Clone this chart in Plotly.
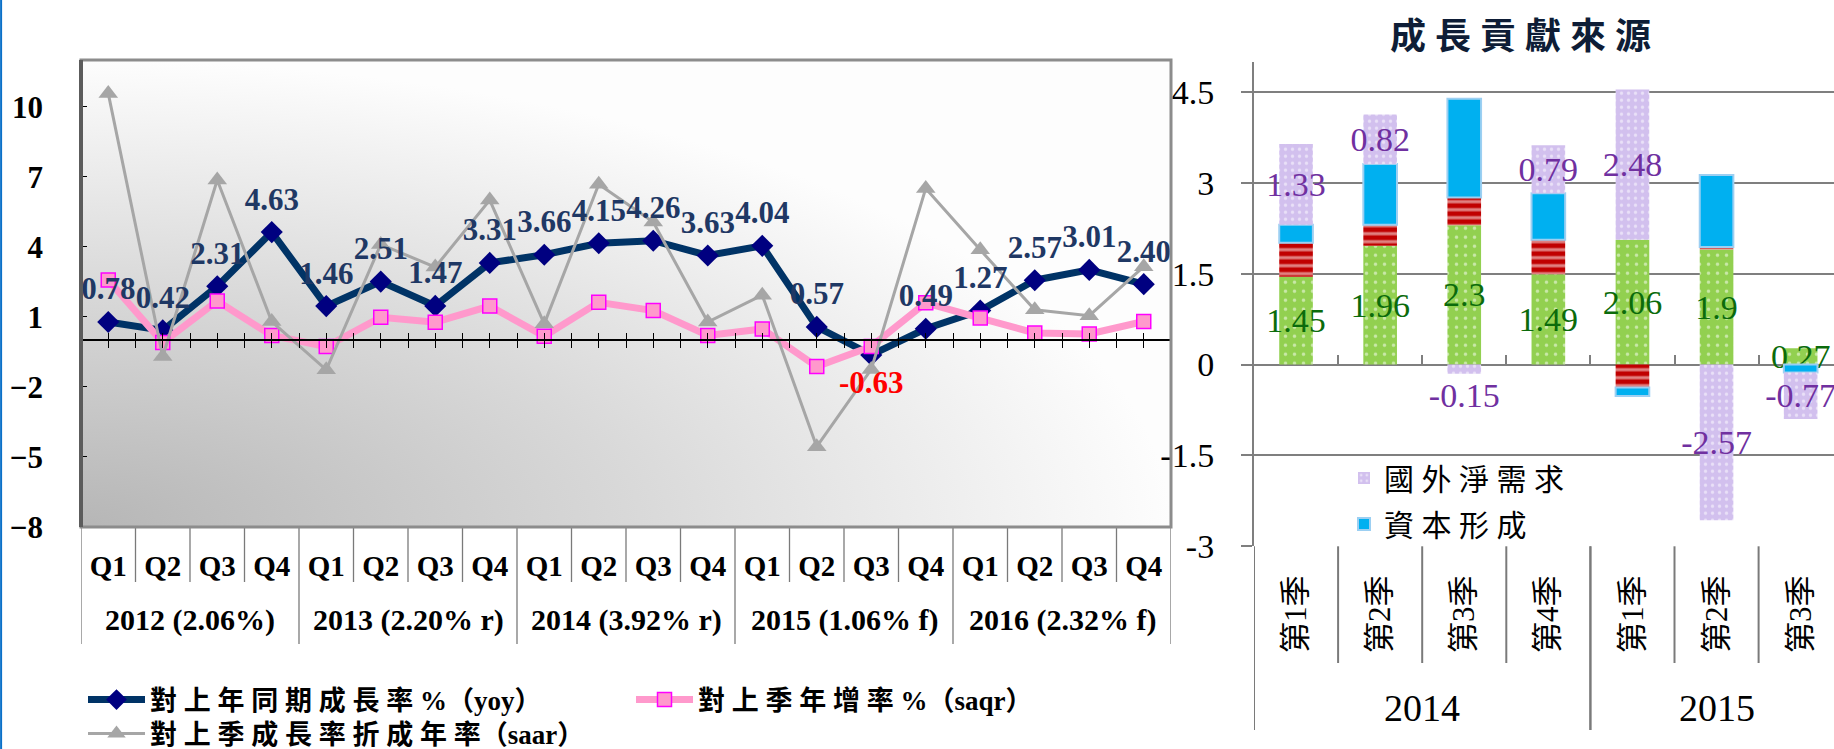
import base64
import plotly.graph_objects as go

W, H = 1834, 749

# ---- growth-rate lines (left panel) ----
year_labels = ["2012 (2.06%)", "2013 (2.20% r)", "2014 (3.92% r)", "2015 (1.06% f)", "2016 (2.32% f)"]
quarter_labels = ["Q1", "Q2", "Q3", "Q4"]
yoy = [0.78, 0.42, 2.31, 4.63, 1.46, 2.51, 1.47, 3.31, 3.66, 4.15,
       4.26, 3.63, 4.04, 0.57, -0.63, 0.49, 1.27, 2.57, 3.01, 2.40]
saqr = [2.58, -0.10, 1.68, 0.20, -0.27, 0.98, 0.77, 1.46, 0.17, 1.62,
        1.27, 0.20, 0.48, -1.13, -0.27, 1.60, 0.95, 0.31, 0.27, 0.80]
saar = [10.57, -0.70, 6.86, 0.80, -1.27, 4.10, 3.13, 6.00, 0.70, 6.68,
        5.06, 0.78, 1.93, -4.56, -1.25, 6.50, 3.87, 1.30, 1.05, 3.15]
left_ticks = [-8, -5, -2, 1, 4, 7, 10]
left_range = [-8, 12]

# ---- contribution bars (right panel) ----
bar_years = ["2014", "2015"]
bar_quarters_per_year = [["第1季", "第2季", "第3季", "第4季"], ["第1季", "第2季", "第3季"]]
consumption = [1.45, 1.96, 2.30, 1.49, 2.06, 1.90, 0.27]
government = [0.56, 0.35, 0.46, 0.57, -0.38, 0.04, 0.00]
capital = [0.30, 1.00, 1.63, 0.77, -0.14, 1.19, -0.13]
net_exports = [1.33, 0.82, -0.15, 0.79, 2.48, -2.57, -0.77]
right_ticks = [-3, -1.5, 0, 1.5, 3, 4.5]
right_range = [-3, 5]


def py(px):
    """pixel row -> paper y"""
    return (H - px) / H


def pxx(px):
    return px / W


def spaced(text, gap):
    """put a narrow space between CJK characters"""
    out = ""
    for i, ch in enumerate(text):
        out += ch
        if i + 1 < len(text) and ord(ch) > 0x2E80 and ord(text[i + 1]) > 0x2E80 and text[i + 1] not in "（）":
            out += gap
    return out


SERIF = "Liberation Serif, Noto Sans CJK TC"
CJK = "Noto Sans CJK TC, Liberation Serif"

# category ids
cats = [f"{y[:4]}{q}" for y in year_labels for q in quarter_labels]
qtext = [q for _ in year_labels for q in quarter_labels]
bcats, btext = [], []
for y, qs in zip(bar_years, bar_quarters_per_year):
    for q in qs:
        bcats.append(f"{y}-{q}")
        btext.append(q)

xdom = [pxx(81), pxx(1171)]
ydom = [py(527), py(60)]
x2dom = [pxx(1254), 1.0]
y2dom = [py(546.3), py(61.7)]
cat_w_px = 84.1
x2_range = [-0.5, -0.5 + (W - 1254) / cat_w_px]

zero_left = ydom[0] + (0 - left_range[0]) / (left_range[1] - left_range[0]) * (ydom[1] - ydom[0])
zero_right = y2dom[0] + (0 - right_range[0]) / (right_range[1] - right_range[0]) * (y2dom[1] - y2dom[0])

fig = go.Figure()

fig.add_trace(go.Scatter(
    x=cats, y=yoy, name=spaced("對上年同期成長率", " ") + " %（yoy）", mode="lines+markers",
    line=dict(color="#003366", width=7),
    marker=dict(symbol="diamond", size=17, color="#000080"),
    xaxis="x", yaxis="y", legend="legend", cliponaxis=False))
fig.add_trace(go.Scatter(
    x=cats, y=saqr, name=spaced("對上季年增率", " ") + " %（saqr）", mode="lines+markers",
    line=dict(color="#ff99cc", width=7),
    marker=dict(symbol="square", size=14, color="#ff99cc", line=dict(color="#ff00ff", width=1.5)),
    xaxis="x", yaxis="y", legend="legend", cliponaxis=False))
fig.add_trace(go.Scatter(
    x=cats, y=saar, name=spaced("對上季成長率折成年率", " ") + "（saar）", mode="lines+markers",
    line=dict(color="#a6a6a6", width=3),
    marker=dict(symbol="triangle-up", size=17, color="#a6a6a6"),
    xaxis="x", yaxis="y", legend="legend2", cliponaxis=False))
# value labels of the yoy series, drawn on top of all lines
fig.add_trace(go.Scatter(
    x=cats, y=yoy, mode="markers+text", showlegend=False, hoverinfo="skip",
    marker=dict(size=22, opacity=0),
    text=[f"{v:.2f}" for v in yoy],
    textposition=["bottom center" if v < 0 else "top center" for v in yoy],
    textfont=dict(family=SERIF, size=31, weight="bold",
                  color=["#ff0000" if v < 0 else "#1f3864" for v in yoy]),
    xaxis="x", yaxis="y", cliponaxis=False))
# carriers for the zero-line tick axes
fig.add_trace(go.Scatter(x=[], y=[], xaxis="x3", yaxis="y", showlegend=False, hoverinfo="skip"))
fig.add_trace(go.Scatter(x=[], y=[], xaxis="x4", yaxis="y", showlegend=False, hoverinfo="skip"))

bar_common = dict(xaxis="x2", yaxis="y2", textangle=0, constraintext="none",
                  insidetextanchor="middle", cliponaxis=False, legend="legend3")
fig.add_trace(go.Bar(
    x=bcats, y=consumption, name="民間消費", showlegend=False,
    marker=dict(color="#92d050", line=dict(width=0),
                pattern=dict(shape=".", fgcolor="#ffffff", bgcolor="#92d050", size=9, solidity=0.12)),
    text=[f"{v:g}" for v in consumption], textposition="inside",
    textfont=dict(family=SERIF, size=34, color="#0b6b0b"), **bar_common))
fig.add_trace(go.Bar(
    x=bcats, y=government, name="政府消費", showlegend=False,
    marker=dict(color="#c00000", line=dict(width=0),
                pattern=dict(shape="-", fgcolor="#ffffff", bgcolor="#c00000", size=8, solidity=0.4)),
    **bar_common))
fig.add_trace(go.Bar(
    x=bcats, y=capital, name=spaced("資本形成", "\u2005"), legendgroup="cap", legendrank=2,
    marker=dict(color="#00b0f0", line=dict(color="#9ccff2", width=2)),
    **bar_common))
fig.add_trace(go.Bar(
    x=bcats, y=net_exports, name=spaced("國外淨需求", "\u2005"), legendgroup="net", legendrank=1,
    marker=dict(color="#d6c6f0", line=dict(width=0),
                pattern=dict(shape=".", fgcolor="#ffffff", bgcolor="#d2c0ee", size=7, solidity=0.18)),
    text=[f"{v:g}" for v in net_exports],
    textposition=["outside" if -0.3 < v < 0 else "inside" for v in net_exports],
    textfont=dict(family=SERIF, size=34, color="#7030a0"), **bar_common))
fig.add_trace(go.Scatter(x=[], y=[], xaxis="x5", yaxis="y2", showlegend=False, hoverinfo="skip"))

# plot-area shading
svg = ('<svg xmlns="http://www.w3.org/2000/svg" width="1000" height="1000" viewBox="0 0 1000 1000" '
       'preserveAspectRatio="none"><defs><radialGradient id="g" cx="0" cy="1" r="1" '
       'gradientUnits="objectBoundingBox"><stop offset="0" stop-color="#b6b6b6"/>'
       '<stop offset="0.5" stop-color="#d8d8d8"/><stop offset="1" stop-color="#fdfdfd"/>'
       '</radialGradient></defs><rect width="1000" height="1000" fill="url(#g)"/></svg>')
bg_src = "data:image/svg+xml;base64," + base64.b64encode(svg.encode()).decode()

shapes = []
grey = "#7a7a7a"
# left panel: quarter and year dividers under the plot
for i in range(len(cats) + 1):
    b = i - 0.5
    is_year = i % len(quarter_labels) == 0
    shapes.append(dict(type="line", xref="x", yref="paper", x0=b, x1=b,
                       y0=ydom[0], y1=py(644) if is_year else py(582),
                       line=dict(color=grey, width=1.3)))
# left panel frame
shapes.append(dict(type="rect", xref="paper", yref="paper", x0=xdom[0], x1=xdom[1],
                   y0=ydom[0], y1=ydom[1], line=dict(color="#8c8c8c", width=3)))
shapes.append(dict(type="line", xref="paper", yref="paper", x0=xdom[0], x1=xdom[0],
                   y0=ydom[0], y1=ydom[1], line=dict(color="#5c5c5c", width=4)))
# right panel: dividers under the plot
idx = 0
for y, qs in zip(bar_years, bar_quarters_per_year):
    shapes.append(dict(type="line", xref="x2", yref="paper", x0=idx - 0.5, x1=idx - 0.5,
                       y0=y2dom[0], y1=py(730), line=dict(color=grey, width=2)))
    for k in range(1, len(qs)):
        b = idx + k - 0.5
        shapes.append(dict(type="line", xref="x2", yref="paper", x0=b, x1=b,
                           y0=y2dom[0], y1=py(663), line=dict(color=grey, width=2)))
    idx += len(qs)
    if idx - 0.5 < x2_range[1]:
        shapes.append(dict(type="line", xref="x2", yref="paper", x0=idx - 0.5, x1=idx - 0.5,
                           y0=y2dom[0], y1=py(730), line=dict(color=grey, width=2)))
# page frame edge
shapes.append(dict(type="line", xref="paper", yref="paper", x0=0.0006, x1=0.0006, y0=0, y1=1,
                   line=dict(color="#0a70c8", width=2)))

annotations = []
for k, lab in enumerate(year_labels):
    annotations.append(dict(x=k * 4 + 1.5, y=py(620), xref="x", yref="paper", text=lab,
                            xanchor="center", yanchor="middle", showarrow=False,
                            font=dict(family=SERIF, size=30, weight="bold", color="black")))
idx = 0
for y, qs in zip(bar_years, bar_quarters_per_year):
    annotations.append(dict(x=idx + (len(qs) - 1) / 2, y=py(708), xref="x2", yref="paper", text=y,
                            xanchor="center", yanchor="middle", showarrow=False,
                            font=dict(family=SERIF, size=38, color="black")))
    idx += len(qs)
annotations.append(dict(x=pxx(1520), y=py(33), xref="paper", yref="paper",
                        text=spaced("成長貢獻來源", "\u2005"), showarrow=False,
                        xanchor="center", yanchor="middle",
                        font=dict(family=CJK, size=36, weight="bold", color="#0e1d36")))

legend_font = dict(family=SERIF, size=27, weight="bold", color="black")

fig.update_layout(
    width=W, height=H, margin=dict(l=0, r=0, t=0, b=0, autoexpand=False),
    paper_bgcolor="white", plot_bgcolor="rgba(0,0,0,0)",
    barmode="relative", bargap=0.6,
    showlegend=True,
    images=[dict(source=bg_src, xref="paper", yref="paper", x=xdom[0], y=ydom[1],
                 sizex=xdom[1] - xdom[0], sizey=ydom[1] - ydom[0], sizing="stretch",
                 xanchor="left", yanchor="top", layer="below")],
    xaxis=dict(domain=xdom, anchor="y", type="category", categoryorder="array", categoryarray=cats,
               range=[-0.5, len(cats) - 0.5], tickvals=cats, ticktext=qtext, ticks="",
               showgrid=False, zeroline=False, showline=False, automargin=False,
               ticklabelstandoff=19,
               tickfont=dict(family=SERIF, size=29, weight="bold", color="black")),
    yaxis=dict(domain=ydom, anchor="x", range=left_range, tickvals=left_ticks,
               ticks="inside", ticklen=6, tickcolor="black", showgrid=False, zeroline=False,
               showline=False, automargin=False, ticklabelstandoff=37,
               tickfont=dict(family=SERIF, size=31, weight="bold", color="black")),
    xaxis3=dict(overlaying="x", anchor="free", position=zero_left, type="linear",
                range=[-0.5, len(cats) - 0.5], tickmode="linear", tick0=-0.5, dtick=0.5,
                ticks="outside", ticklen=7, tickcolor="black", tickwidth=1,
                showline=True, linecolor="black", linewidth=1.5, showticklabels=False,
                showgrid=False, zeroline=False, automargin=False),
    xaxis4=dict(overlaying="x", anchor="free", position=zero_left, type="linear",
                range=[-0.5, len(cats) - 0.5], tickmode="linear", tick0=-0.5, dtick=0.5,
                ticks="inside", ticklen=7, tickcolor="black", tickwidth=1,
                showline=False, showticklabels=False,
                showgrid=False, zeroline=False, automargin=False),
    xaxis2=dict(domain=x2dom, anchor="y2", type="category", categoryorder="array", categoryarray=bcats,
                range=x2_range, tickvals=bcats, ticktext=btext, tickangle=-90, ticks="",
                showgrid=False, zeroline=False, showline=False, automargin=False,
                ticklabelstandoff=22,
                tickfont=dict(family=SERIF, size=31, color="black")),
    yaxis2=dict(domain=y2dom, anchor="x2", range=right_range, tickvals=right_ticks,
                ticktext=[f"{v:g}" for v in right_ticks],
                ticks="outside", ticklen=11, tickcolor="#7f7f7f", tickwidth=2,
                showgrid=True, gridcolor="#7f7f7f", gridwidth=2, zeroline=False,
                showline=True, linecolor="#7f7f7f", linewidth=2, automargin=False,
                ticklabelstandoff=20,
                tickfont=dict(family=SERIF, size=34, color="black")),
    xaxis5=dict(overlaying="x2", anchor="free", position=zero_right, type="linear",
                range=x2_range, tickmode="linear", tick0=0.5, dtick=1,
                ticks="inside", ticklen=10, tickcolor="#7f7f7f", tickwidth=2,
                showline=False, showticklabels=False, showgrid=False, zeroline=False,
                automargin=False),
    legend=dict(orientation="h", x=pxx(83), y=py(700), xanchor="left", yanchor="middle",
                font=legend_font, itemwidth=57, entrywidth=476, bgcolor="rgba(0,0,0,0)"),
    legend2=dict(orientation="h", x=pxx(83), y=py(734), xanchor="left", yanchor="middle",
                 font=legend_font, itemwidth=57, bgcolor="rgba(0,0,0,0)"),
    legend3=dict(orientation="v", x=pxx(1344), y=py(501), xanchor="left", yanchor="middle",
                 font=dict(family=CJK, size=30, color="black"), traceorder="grouped",
                 tracegroupgap=4, bgcolor="rgba(0,0,0,0)"),
    shapes=shapes, annotations=annotations,
)

fig.write_html("out.html")
